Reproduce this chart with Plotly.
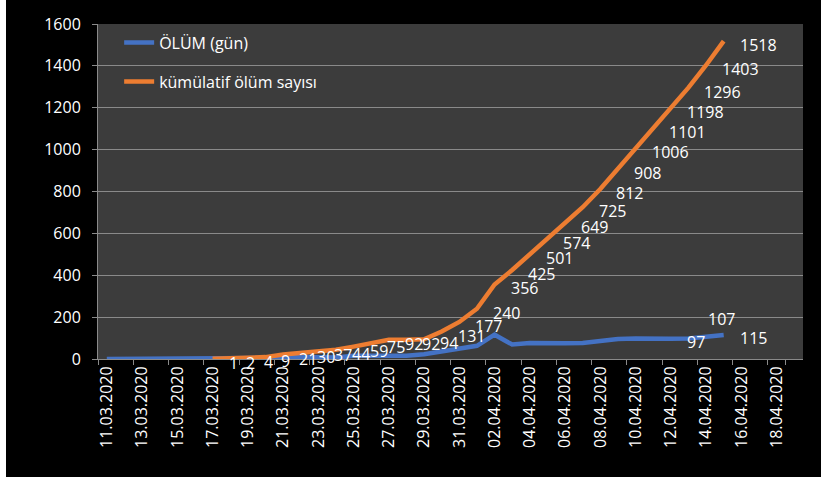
import plotly.graph_objects as go

# ---------------- data ----------------
dates = [
    "11.03.2020", "12.03.2020", "13.03.2020", "14.03.2020", "15.03.2020",
    "16.03.2020", "17.03.2020", "18.03.2020", "19.03.2020", "20.03.2020",
    "21.03.2020", "22.03.2020", "23.03.2020", "24.03.2020", "25.03.2020",
    "26.03.2020", "27.03.2020", "28.03.2020", "29.03.2020", "30.03.2020",
    "31.03.2020", "01.04.2020", "02.04.2020", "03.04.2020", "04.04.2020",
    "05.04.2020", "06.04.2020", "07.04.2020", "08.04.2020", "09.04.2020",
    "10.04.2020", "11.04.2020", "12.04.2020", "13.04.2020", "14.04.2020",
    "15.04.2020", "16.04.2020", "17.04.2020", "18.04.2020", "19.04.2020",
]
tick_labels = [
    "11.03.2020", "13.03.2020", "15.03.2020", "17.03.2020", "19.03.2020",
    "21.03.2020", "23.03.2020", "25.03.2020", "27.03.2020", "29.03.2020",
    "31.03.2020", "02.04.2020", "04.04.2020", "06.04.2020", "08.04.2020",
    "10.04.2020", "12.04.2020", "14.04.2020", "16.04.2020", "18.04.2020",
]

# daily deaths, 11.03.2020 .. 15.04.2020
olum_gun = [0, 0, 0, 0, 0, 0, 1, 1, 2, 5, 12, 9, 7, 7, 15, 16, 17, 16, 23, 37,
            46, 63, 116, 69, 76, 73, 75, 76, 87, 96, 98, 95, 97, 98, 107, 115]
olum_gun_dates = dates[:len(olum_gun)]

# cumulative deaths, 17.03.2020 .. 15.04.2020
kumulatif = [1, 2, 4, 9, 21, 30, 37, 44, 59, 75, 92, 92, 94, 131, 177, 240,
             356, 425, 501, 574, 649, 725, 812, 908, 1006, 1101, 1198, 1296,
             1403, 1518]
kumulatif_dates = dates[6:6 + len(kumulatif)]

# labelled points of the daily series
olum_label_dates = ["12.04.2020", "14.04.2020", "15.04.2020"]

# ---------------- style ----------------
BLUE = "#4472C4"
ORANGE = "#ED7D31"
FONT = "Open Sans"
GRID = "#8a8a8a"
olum_label_style = [(14, -3, "left"), (0, 18, "left"), (14, -3, "left")]  # (xshift, yshift, anchor)

fig = go.Figure()
fig.add_trace(go.Scatter(
    x=olum_gun_dates, y=olum_gun, mode="lines", name="ÖLÜM (gün)",
    line=dict(color=BLUE, width=4.5), legendgroup="a", cliponaxis=False,
    hoverinfo="skip"))
fig.add_trace(go.Scatter(
    x=kumulatif_dates, y=kumulatif, mode="lines", name="kümülatif ölüm sayısı",
    line=dict(color=ORANGE, width=4.5), legendgroup="b", cliponaxis=False,
    hoverinfo="skip"))

annotations = []
for d, v in zip(kumulatif_dates, kumulatif):
    annotations.append(dict(
        x=d, y=v, xref="x", yref="y", text=str(v), showarrow=False,
        xanchor="left", yanchor="middle", xshift=14, yshift=-4,
        font=dict(family=FONT, size=16, color="white")))
for d, (xs, ys, anc) in zip(olum_label_dates, olum_label_style):
    v = olum_gun[olum_gun_dates.index(d)]
    annotations.append(dict(
        x=d, y=v, xref="x", yref="y", text=str(v), showarrow=False,
        xanchor=anc, yanchor="middle", xshift=xs, yshift=ys,
        font=dict(family=FONT, size=16, color="white")))

# white border strips of the original picture (left and bottom)
shapes = [
    dict(type="rect", xref="paper", yref="paper", x0=-0.15, x1=-0.1305,
         y0=-0.4, y1=1.1, fillcolor="white", line=dict(width=0), layer="above"),
    dict(type="rect", xref="paper", yref="paper", x0=-0.15, x1=1.1,
         y0=-0.4, y1=-0.3525, fillcolor="white", line=dict(width=0), layer="above"),
]

fig.update_layout(
    width=821, height=481,
    margin=dict(l=98, r=18, t=24, b=122),
    paper_bgcolor="black", plot_bgcolor="#3c3c3c",
    font=dict(family=FONT, color="white", size=16),
    showlegend=True,
    legend=dict(x=0.03, y=0.995, xanchor="left", yanchor="top",
                bgcolor="rgba(0,0,0,0)", traceorder="grouped",
                tracegroupgap=15, font=dict(family=FONT, size=16, color="white")),
    annotations=annotations,
    shapes=shapes,
    xaxis=dict(
        type="category", categoryorder="array", categoryarray=dates,
        range=[-0.5, len(dates) - 0.5],
        tickmode="array", tickvals=tick_labels, ticktext=tick_labels,
        tickson="boundaries", ticks="outside", ticklen=5, tickcolor=GRID,
        tickangle=-90, showline=True, linecolor=GRID, linewidth=1,
        showgrid=False, zeroline=False,
        tickfont=dict(family=FONT, size=16, color="white")),
    yaxis=dict(
        range=[0, 1600], dtick=200, tick0=0,
        showgrid=True, gridcolor=GRID, gridwidth=1,
        showline=True, linecolor=GRID, linewidth=1,
        ticks="outside", ticklen=5, tickcolor=GRID, zeroline=False,
        ticklabelstandoff=8,
        tickfont=dict(family=FONT, size=16, color="white")),
)

fig.write_html(
    "out.html",
    config={"displayModeBar": False},
    post_script="document.body.style.margin='0';document.body.style.overflow='hidden';",
)
